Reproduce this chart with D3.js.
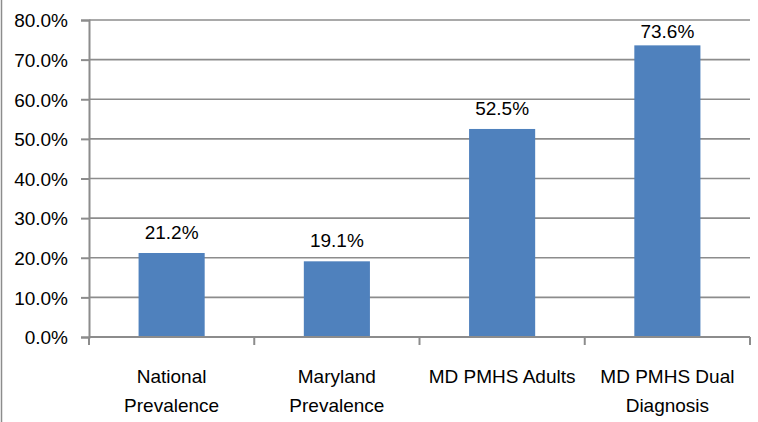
<!DOCTYPE html>
<html>
<head>
<meta charset="utf-8">
<script src="https://cdn.jsdelivr.net/npm/d3@7"></script>
<style>
  body { margin: 0; background: #fff; }
  svg { display: block; font-family: "Liberation Sans", Arial, sans-serif; }
</style>
</head>
<body>
<div class="chart"></div>
<script>
var categories = [["National", "Prevalence"], ["Maryland", "Prevalence"], ["MD PMHS Adults"], ["MD PMHS Dual", "Diagnosis"]];
var values = [21.2, 19.1, 52.5, 73.6];
var yTicks = [0, 10, 20, 30, 40, 50, 60, 70, 80];

var w = 758, h = 422;
var margin = {top: 20, right: 8, bottom: 85, left: 89};

var svg = d3.select('.chart').append('svg')
  .attr('width', w)
  .attr('height', h);

// left frame edge
svg.append('line')
  .attr('x1', 1.5).attr('x2', 1.5)
  .attr('y1', 0).attr('y2', h)
  .style('stroke', '#8c8c8c')
  .style('stroke-width', 1.5);

var x = d3.scaleBand()
  .domain(d3.range(categories.length))
  .range([margin.left, w - margin.right])
  .paddingInner(0.6)
  .paddingOuter(0.3);

var band = (w - margin.right - margin.left) / categories.length;

var y = d3.scaleLinear()
  .domain([0, 80])
  .range([h - margin.bottom, margin.top]);

// gridlines
svg.selectAll('.grid').data(yTicks.slice(1))
  .enter().append('line')
  .attr('x1', margin.left).attr('x2', w - margin.right)
  .attr('y1', function(d){ return y(d); })
  .attr('y2', function(d){ return y(d); })
  .style('stroke', '#8c8c8c')
  .style('stroke-width', 1.7);

// y axis
var yAxis = d3.axisLeft(y)
  .tickValues(yTicks)
  .tickSize(8)
  .tickPadding(13)
  .tickFormat(function(d){ return d.toFixed(1) + '%'; });

var gy = svg.append('g')
  .attr('transform', 'translate(' + margin.left + ',0)')
  .call(yAxis);
gy.select('.domain').style('stroke', '#8c8c8c').style('stroke-width', 2);
gy.selectAll('line').style('stroke', '#8c8c8c').style('stroke-width', 2);
gy.selectAll('text').style('font-size', '19px').style('fill', '#000').attr('dy', '0.36em');

// bars
svg.selectAll('.bar').data(values)
  .enter().append('rect')
  .attr('x', function(d, i){ return x(i); })
  .attr('y', function(d){ return y(d); })
  .attr('width', x.bandwidth())
  .attr('height', function(d){ return y(0) - y(d); })
  .style('fill', '#4F81BD');

// x axis baseline and ticks
svg.append('line')
  .attr('x1', margin.left).attr('x2', w - margin.right)
  .attr('y1', y(0)).attr('y2', y(0))
  .style('stroke', '#8c8c8c')
  .style('stroke-width', 2);

svg.selectAll('.xtick').data(d3.range(categories.length + 1))
  .enter().append('line')
  .attr('x1', function(d){ return margin.left + d * band; })
  .attr('x2', function(d){ return margin.left + d * band; })
  .attr('y1', y(0)).attr('y2', y(0) + 8)
  .style('stroke', '#8c8c8c')
  .style('stroke-width', 2);

// value labels
svg.selectAll('.val').data(values)
  .enter().append('text')
  .attr('x', function(d, i){ return x(i) + x.bandwidth() / 2; })
  .attr('y', function(d){ return Math.max(y(d) - 14, margin.top + 18); })
  .attr('text-anchor', 'middle')
  .style('font-size', '19px')
  .text(function(d){ return d.toFixed(1) + '%'; });

// category labels
var cats = svg.selectAll('.cat').data(categories)
  .enter().append('text')
  .attr('text-anchor', 'middle')
  .style('font-size', '19px')
  .attr('transform', function(d, i){ return 'translate(' + (x(i) + x.bandwidth() / 2) + ',' + (y(0) + 46) + ')'; });

cats.selectAll('tspan').data(function(d){ return d; })
  .enter().append('tspan')
  .attr('x', 0)
  .attr('dy', function(d, i){ return i === 0 ? 0 : 29; })
  .text(function(d){ return d; });
</script>
</body>
</html>
